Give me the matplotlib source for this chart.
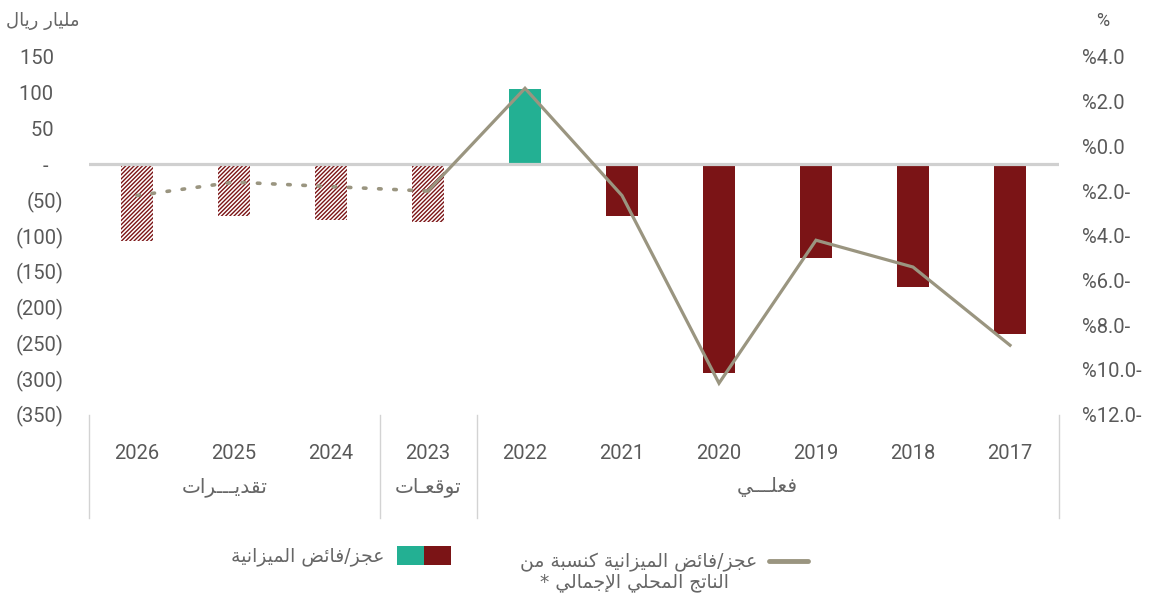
import numpy as np
import matplotlib
matplotlib.use("Agg")
import matplotlib.pyplot as plt
from matplotlib import transforms
from matplotlib.patches import Patch
from matplotlib.lines import Line2D
from matplotlib.legend_handler import HandlerTuple
from matplotlib.ticker import FuncFormatter

# ---------------- data ----------------
years = ["2026", "2025", "2024", "2023", "2022", "2021", "2020", "2019", "2018", "2017"]
balance_bn = [-107, -72, -78, -81, 105, -72, -292, -131, -172, -237]      # billion SAR
balance_pct = [-2.2, -1.6, -1.8, -2.0, 2.6, -2.2, -10.6, -4.2, -5.4, -8.9]  # % of GDP
projected = [True, True, True, True, False, False, False, False, False, False]
left_ticks = [150, 100, 50, 0, -50, -100, -150, -200, -250, -300, -350]
right_ticks = [4, 2, 0, -2, -4, -6, -8, -10, -12]
groups = ["تقديـــرات", "توقعـات", "فعلـــي"]
group_centers = [0.9, 3.0, 6.5]
separators = [-0.5, 2.5, 3.5, 9.5]
left_unit = "مليار ريال"
right_unit = "%"
legend_bar = "عجز/فائض الميزانية"
legend_line = ["عجز/فائض الميزانية كنسبة من", "الناتج المحلي الإجمالي *"]

RED = "#7b1416"
TEAL = "#23b093"
LINE = "#9a9580"
TICK = "#595959"
ARTXT = "#666666"

# ------------- minimal Arabic shaping (presentation forms) -------------
_FORMS = {
    'ا': ('\ufe8d', '\ufe8e', None, None),
    'إ': ('\ufe87', '\ufe88', None, None),
    'ب': ('\ufe8f', '\ufe90', '\ufe91', '\ufe92'),
    'ة': ('\ufe93', '\ufe94', None, None),
    'ت': ('\ufe95', '\ufe96', '\ufe97', '\ufe98'),
    'ج': ('\ufe9d', '\ufe9e', '\ufe9f', '\ufea0'),
    'ح': ('\ufea1', '\ufea2', '\ufea3', '\ufea4'),
    'د': ('\ufea9', '\ufeaa', None, None),
    'ر': ('\ufead', '\ufeae', None, None),
    'ز': ('\ufeaf', '\ufeb0', None, None),
    'س': ('\ufeb1', '\ufeb2', '\ufeb3', '\ufeb4'),
    'ض': ('\ufebd', '\ufebe', '\ufebf', '\ufec0'),
    'ع': ('\ufec9', '\ufeca', '\ufecb', '\ufecc'),
    'ف': ('\ufed1', '\ufed2', '\ufed3', '\ufed4'),
    'ق': ('\ufed5', '\ufed6', '\ufed7', '\ufed8'),
    'ك': ('\ufed9', '\ufeda', '\ufedb', '\ufedc'),
    'ل': ('\ufedd', '\ufede', '\ufedf', '\ufee0'),
    'م': ('\ufee1', '\ufee2', '\ufee3', '\ufee4'),
    'ن': ('\ufee5', '\ufee6', '\ufee7', '\ufee8'),
    'و': ('\ufeed', '\ufeee', None, None),
    'ي': ('\ufef1', '\ufef2', '\ufef3', '\ufef4'),
    'ئ': ('\ufe89', '\ufe8a', '\ufe8b', '\ufe8c'),
    'ـ': ('\u0640', '\u0640', '\u0640', '\u0640'),
    'لا': ('\ufefb', '\ufefc', None, None),
    'لإ': ('\ufef9', '\ufefa', None, None),
}


def ar(text):
    lines = []
    for line in text.split("\n"):
        toks, i = [], 0
        while i < len(line):
            if line[i] == 'ل' and i + 1 < len(line) and line[i + 1] in 'اإ':
                toks.append(line[i:i + 2]); i += 2
            else:
                toks.append(line[i]); i += 1
        out = []
        for k, t in enumerate(toks):
            f = _FORMS.get(t)
            if f is None:
                out.append(t); continue
            prev = _FORMS.get(toks[k - 1]) if k > 0 else None
            nxt = _FORMS.get(toks[k + 1]) if k + 1 < len(toks) else None
            jp = prev is not None and prev[2] is not None
            jn = f[2] is not None and nxt is not None
            out.append(f[3] if (jp and jn) else f[1] if jp else f[2] if jn else f[0])
        lines.append("".join(reversed(out)))
    return "\n".join(lines)


# ---------------- figure ----------------
plt.rcParams['font.family'] = ['Roboto', 'DejaVu Sans']
plt.rcParams['hatch.linewidth'] = 1.0
W, H = 1153, 596
fig = plt.figure(figsize=(W / 100, H / 100), dpi=100)
ax = fig.add_axes([88.5 / W, 1 - 414.5 / H, 970 / W, 357.5 / H])
ax2 = ax.twinx()

x = np.arange(len(years))
for xi, v, proj in zip(x, balance_bn, projected):
    if proj:
        ax.bar(xi, v, width=0.33, facecolor="white", edgecolor=RED, hatch="////////",
               linewidth=0, zorder=2)
    else:
        ax.bar(xi, v, width=0.33, color=TEAL if v > 0 else RED, linewidth=0, zorder=2)

ax.axhline(0, color="#d0d0d0", lw=2.3, zorder=2.5)

ax.set_xlim(-0.5, len(years) - 0.5)
ax.set_ylim(min(left_ticks), max(left_ticks))
ax.set_yticks(left_ticks)


def lfmt(v, pos):
    v = int(round(v))
    if v > 0:
        return f"{v}  "
    if v == 0:
        return "-   "
    return f"({-v})"


ax.yaxis.set_major_formatter(FuncFormatter(lfmt))
ax.tick_params(axis='y', length=0, pad=18, labelsize=14.5, labelcolor=TICK)
ax.set_xticks(x)
ax.set_xticklabels(years)
ax.tick_params(axis='x', length=0, pad=21, labelsize=14.5, labelcolor=TICK)
for s in ax.spines.values():
    s.set_visible(False)

# line on secondary axis
n_proj = sum(projected)
ax2.plot(x[n_proj - 1:], balance_pct[n_proj - 1:], color=LINE, lw=2.3, zorder=3,
         solid_joinstyle='miter')
ax2.plot(x[:n_proj], balance_pct[:n_proj], color=LINE, lw=2.6, zorder=3,
         linestyle=(0, (0.7, 3.5)), dash_capstyle='round')
ax2.set_ylim(min(right_ticks), max(right_ticks))
ax2.set_yticks(right_ticks)


def rfmt(v, pos):
    return f"%{v:.1f}" if v >= 0 else f"%{-v:.1f}-"


ax2.yaxis.set_major_formatter(FuncFormatter(rfmt))
ax2.tick_params(axis='y', length=0, pad=17, labelsize=14.5, labelcolor=TICK)
for s in ax2.spines.values():
    s.set_visible(False)
ax.set_zorder(1)
ax2.set_zorder(2)
ax2.patch.set_visible(False)

# category separators and group labels
tr = transforms.blended_transform_factory(ax.transData, fig.transFigure)
for sx in separators:
    ax.plot([sx, sx], [1 - 415 / H, 1 - 518 / H], transform=tr, color="#d3d3d3",
            lw=1.0, clip_on=False)
for g, gx in zip(groups, group_centers):
    ax.text(gx, 1 - 487 / H, ar(g), transform=tr, ha='center', va='center',
            family='DejaVu Sans', fontsize=14.5, color=ARTXT)

# axis unit titles
fig.text(79 / W, 1 - 21 / H, ar(left_unit), ha='right', va='center',
         family='DejaVu Sans', fontsize=13, color=ARTXT)
fig.text(1103 / W, 1 - 21 / H, right_unit, ha='center', va='center',
         fontsize=13, color=TICK)

# legends
p_teal = Patch(facecolor=TEAL, linewidth=0)
p_red = Patch(facecolor=RED, linewidth=0)
leg1 = fig.legend(handles=[(p_teal, p_red)], labels=[ar(legend_bar)],
                  handler_map={tuple: HandlerTuple(ndivide=None, pad=0)},
                  markerfirst=False, frameon=False, loc='center right',
                  bbox_to_anchor=(451 / W, 1 - 556 / H), borderpad=0, borderaxespad=0,
                  handlelength=2.9, handleheight=1.25, handletextpad=0.65,
                  prop={'family': 'DejaVu Sans', 'size': 13.5})
for t in leg1.get_texts():
    t.set_color(ARTXT)

lh = Line2D([], [], color=LINE, lw=3.5, solid_capstyle='round')
leg2 = fig.legend(handles=[lh], labels=[ar(legend_line[0])],
                  markerfirst=False, frameon=False, loc='center right',
                  bbox_to_anchor=(808 / W, 1 - 562 / H), borderpad=0, borderaxespad=0,
                  handlelength=2.1, handletextpad=0.6,
                  prop={'family': 'DejaVu Sans', 'size': 13.5})
for t in leg2.get_texts():
    t.set_color(ARTXT)
fig.text(634 / W, 1 - 582 / H, ar(legend_line[1]), ha='center', va='center',
         family='DejaVu Sans', fontsize=13.5, color=ARTXT)

fig.savefig("out.png", dpi=100)
